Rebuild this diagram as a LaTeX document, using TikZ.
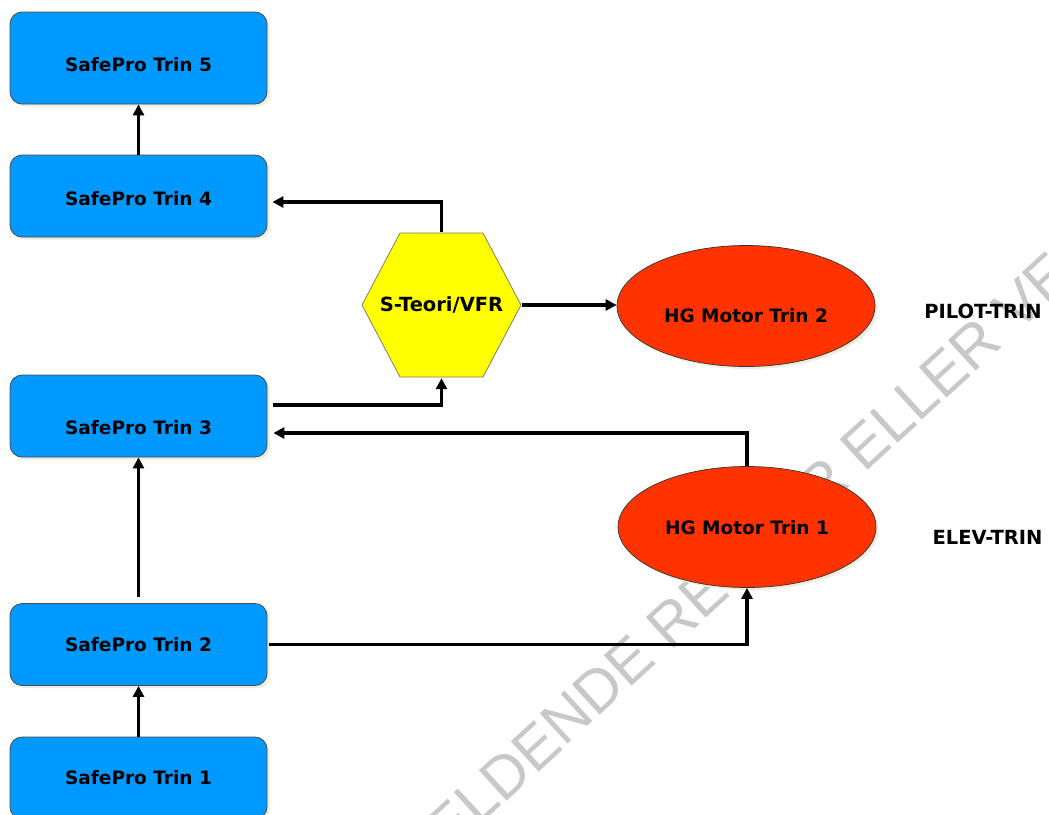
\documentclass[tikz,border=0pt]{standalone}
\usepackage{fontspec}
\setmainfont{DejaVu Sans}
\newfontfamily\wmfont{Liberation Sans}
\usetikzlibrary{arrows.meta,shapes.geometric,shadows}
\definecolor{boxblue}{RGB}{0,153,255}
\definecolor{motorred}{RGB}{255,51,0}
\definecolor{hexyellow}{RGB}{255,255,0}
\definecolor{hexborder}{RGB}{128,128,100}
\definecolor{wmgray}{RGB}{200,200,200}
\definecolor{shadowcol}{RGB}{238,236,222}
\newcommand\lbl[2]{\raisebox{\dimexpr-#1pt-6.5pt\relax}[0pt][0pt]{#2}}
\begin{document}
\begin{tikzpicture}[x=1pt,y=-1pt,
  txt/.style={font=\fontsize{18.5}{22}\selectfont\bfseries, text=black},
  bigtxt/.style={font=\fontsize{19.5}{23}\selectfont\bfseries, text=black},
  shd/.style={drop shadow={shadow xshift=2.5pt, shadow yshift=-2.5pt, fill=shadowcol, opacity=1}},
  stepbox/.style={txt, shd, draw=black!70, line width=0.8pt, rounded corners=12pt, fill=boxblue,
    minimum width=257pt, minimum height=82pt, inner sep=0pt},
  motor/.style={txt, shd, ellipse, draw=black!80, line width=0.7pt, fill=motorred,
    minimum width=258pt, minimum height=121pt, inner sep=0pt},
  hexnode/.style={bigtxt, rectangle, inner sep=0pt, minimum width=161pt, minimum height=146pt,
    path picture={\draw[fill=hexyellow, draw=hexborder, line width=0.8pt]
      ([shift={(1,0)}]path picture bounding box.west) --
      ([shift={(39,1)}]path picture bounding box.north west) --
      ([shift={(-39,1)}]path picture bounding box.north east) --
      ([shift={(-1,0)}]path picture bounding box.east) --
      ([shift={(-39,-1)}]path picture bounding box.south east) --
      ([shift={(39,-1)}]path picture bounding box.south west) -- cycle;}},
  tag/.style={bigtxt, inner sep=0pt},
  wm/.style={font=\wmfont\fontsize{60}{60}\selectfont, text=wmgray, inner sep=0pt},
  conn/.style={line width=3.6pt, draw=black, -{Triangle[length=11pt,width=11pt]}}
]
\useasboundingbox (0,0) rectangle (1049,814);
\fill[white] (0,0) rectangle (1049,814);

% watermark
\begin{scope}
  \clip (0,0) rectangle (1049,814);
  \node[wm, rotate=42.5, anchor=base west] (wmark) at (400,899) {GÆLDENDE REGLER ELLER VEJLEDNING};
\end{scope}

% nodes
\node[stepbox, minimum height=92pt] (t5) at (138.5,58) {\lbl{7}{SafePro Trin 5}};
\node[stepbox] (t4) at (138.5,196) {\lbl{3}{SafePro Trin 4}};
\node[stepbox] (t3) at (138.5,416) {\lbl{12}{SafePro Trin 3}};
\node[stepbox] (t2) at (138.5,644.5) {\lbl{0.5}{SafePro Trin 2}};
\node[stepbox] (t1) at (138.5,778) {\lbl{0}{SafePro Trin 1}};

\node[hexnode] (hex) at (441.5,305) {\lbl{0}{S-Teori/VFR}};

\node[motor] (e2) at (746,306) {\lbl{10}{HG Motor Trin 2}};
\node[motor] (e1) at (747,527) {\lbl{1}{HG Motor Trin 1}};

\node[tag] (pilot) at (983,312) {\lbl{0}{PILOT-TRIN}};
\node[tag] (elev) at (987.5,538) {\lbl{0}{ELEV-TRIN}};

% connectors
\draw[conn] (t4.north) -- (t5.south);
\draw[conn] (hex.north) |- ([shift={(5,6)}]t4.east);
\draw[conn] (hex.east) -- (hex.east -| e2.west);
\draw[conn] ([shift={(6,-11)}]t3.east) -| (hex.south);
\draw[conn] (e1.north) |- ([shift={(6,17)}]t3.east);
\draw[conn] ([shift={(0,-6)}]t2.north) -- (t3.south);
\draw[conn] ([shift={(2,0)}]t2.east) -| (e1.south);
\draw[conn] (t1.north) -- (t2.south);
\end{tikzpicture}
\end{document}
